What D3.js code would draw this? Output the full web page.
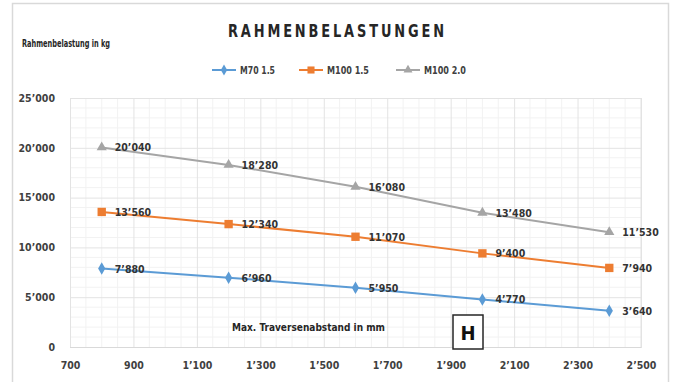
<!DOCTYPE html>
<html>
<head>
<meta charset="utf-8">
<script src="https://cdn.jsdelivr.net/npm/d3@7"></script>
<style>
  html, body { margin: 0; padding: 0; background: #fff; }
  svg { display: block; }
  text { font-family: "Liberation Sans Narrow", "DejaVu Sans Condensed", "Arial Narrow", sans-serif; }
</style>
</head>
<body>
<svg id="chart" width="675" height="382"></svg>
<script>
// Frame spacing in mm (x) and frame load in kg (y)
const spacings = [800, 1200, 1600, 2000, 2400];
const seriesNames = ["M70 1.5", "M100 1.5", "M100 2.0"];
const m70_15 = [7880, 6960, 5950, 4770, 3640];
const m100_15 = [13560, 12340, 11070, 9400, 7940];
const m100_20 = [20040, 18280, 16080, 13480, 11530];
const xTicks = [700, 900, 1100, 1300, 1500, 1700, 1900, 2100, 2300, 2500];
const yTicks = [0, 5000, 10000, 15000, 20000, 25000];
const colors = ["#5b9bd5", "#ed7d31", "#a5a5a5"];
const markers = [d3.symbolDiamond, d3.symbolSquare, d3.symbolTriangle];

const series = [m70_15, m100_15, m100_20].map((vals, i) => ({
  name: seriesNames[i], color: colors[i], marker: markers[i],
  points: vals.map((v, j) => ({ x: spacings[j], y: v }))
}));

// Swiss thousands separator: 20'040
const fmt = v => d3.format(",")(v).replace(/,/g, "\u2019");

const svg = d3.select("#chart");
const plot = { left: 70, right: 641, top: 98, bottom: 347 };

const x = d3.scaleLinear().domain([700, 2500]).range([plot.left, plot.right]);
const y = d3.scaleLinear().domain([0, 25000]).range([plot.bottom, plot.top]);

// chart frame
svg.append("rect")
  .attr("x", 12.5).attr("y", 3.5).attr("width", 656).attr("height", 390)
  .attr("fill", "#fff").attr("stroke", "#d9d9d9").attr("stroke-width", 1.5);

// minor gridlines
const g = svg.append("g");
g.selectAll("line.minx").data(d3.range(750, 2500, 50).filter(v => v % 200 !== 100))
  .join("line").attr("class", "minx")
  .attr("x1", d => x(d)).attr("x2", d => x(d))
  .attr("y1", plot.top).attr("y2", plot.bottom)
  .attr("stroke", "#f2f2f2").attr("stroke-width", 1);
g.selectAll("line.miny").data(d3.range(1000, 25000, 1000).filter(v => v % 5000 !== 0))
  .join("line").attr("class", "miny")
  .attr("x1", plot.left).attr("x2", plot.right)
  .attr("y1", d => y(d)).attr("y2", d => y(d))
  .attr("stroke", "#f2f2f2").attr("stroke-width", 1);

// major gridlines via axes
svg.append("g")
  .attr("transform", `translate(0,${plot.bottom})`)
  .call(d3.axisBottom(x).tickValues(xTicks).tickSize(-(plot.bottom - plot.top)).tickFormat(fmt))
  .call(a => a.select(".domain").attr("stroke", "#d9d9d9"))
  .call(a => a.selectAll(".tick line").attr("stroke", "#e3e3e3"))
  .call(a => a.selectAll(".tick text")
    .attr("y", 15).attr("font-size", 10.5).attr("font-weight", "bold").attr("fill", "#404040"));

svg.append("g")
  .attr("transform", `translate(${plot.left},0)`)
  .call(d3.axisLeft(y).tickValues(yTicks).tickSize(-(plot.right - plot.left)).tickFormat(fmt))
  .call(a => a.select(".domain").remove())
  .call(a => a.selectAll(".tick line").attr("stroke", d => d === 0 ? "#d9d9d9" : "#e3e3e3"))
  .call(a => a.selectAll(".tick text")
    .attr("x", -15).attr("font-size", 10.5).attr("font-weight", "bold").attr("fill", "#404040"));

// right plot edge
svg.append("line")
  .attr("x1", plot.right).attr("x2", plot.right).attr("y1", plot.top).attr("y2", plot.bottom)
  .attr("stroke", "#e3e3e3");

// series lines, markers and value labels
const line = d3.line().x(d => x(d.x)).y(d => y(d.y));
series.forEach(s => {
  const sg = svg.append("g");
  sg.append("path").datum(s.points).attr("d", line)
    .attr("fill", "none").attr("stroke", s.color).attr("stroke-width", 2);
  sg.selectAll("path.m").data(s.points).join("path").attr("class", "m")
    .attr("transform", d => `translate(${x(d.x)},${y(d.y)})`)
    .attr("d", d3.symbol().type(s.marker).size(s.marker === d3.symbolSquare ? 70 : 45))
    .attr("fill", s.color);
  sg.selectAll("text").data(s.points).join("text")
    .attr("x", d => x(d.x) + 13).attr("y", d => y(d.y) + 4)
    .attr("font-size", 10.5).attr("font-weight", "bold").attr("fill", "#333")
    .text(d => fmt(d.y));
});

// title: narrow glyphs, open letter spacing
svg.append("g")
  .attr("transform", "translate(228,37) scale(0.8,1)")
  .append("text")
  .attr("x", 0).attr("y", 0)
  .attr("font-size", 18).attr("font-weight", "bold")
  .attr("textLength", 216 / 0.8).attr("lengthAdjust", "spacing")
  .attr("fill", "#262626").text("RAHMENBELASTUNGEN");

// y axis title
svg.append("text")
  .attr("x", 22).attr("y", 47)
  .attr("font-size", 10).attr("font-weight", "bold").attr("fill", "#262626")
  .attr("textLength", 88).attr("lengthAdjust", "spacingAndGlyphs")
  .text("Rahmenbelastung in kg");

// x axis title inside plot
svg.append("text")
  .attr("x", 232).attr("y", 331)
  .attr("font-size", 10).attr("font-weight", "bold").attr("fill", "#262626")
  .attr("textLength", 153).attr("lengthAdjust", "spacingAndGlyphs")
  .text("Max. Traversenabstand in mm");

// legend
const legendX = [212, 299, 396];
const legendTextW = [35, 42, 42];
const lg = svg.append("g");
series.forEach((s, i) => {
  const lx = legendX[i], ly = 70;
  lg.append("line").attr("x1", lx).attr("x2", lx + 24).attr("y1", ly).attr("y2", ly)
    .attr("stroke", s.color).attr("stroke-width", 2);
  lg.append("path").attr("transform", `translate(${lx + 12},${ly})`)
    .attr("d", d3.symbol().type(s.marker).size(s.marker === d3.symbolSquare ? 50 : 35))
    .attr("fill", s.color);
  lg.append("text").attr("x", lx + 28).attr("y", ly + 4)
    .attr("font-size", 10).attr("font-weight", "bold").attr("fill", "#404040")
    .attr("textLength", legendTextW[i]).attr("lengthAdjust", "spacingAndGlyphs")
    .text(s.name);
});

// "H" badge
svg.append("rect")
  .attr("x", 453).attr("y", 315).attr("width", 30).attr("height", 34)
  .attr("fill", "#fff").attr("stroke", "#262626").attr("stroke-width", 1.5);
svg.append("text")
  .attr("x", 468).attr("y", 340).attr("text-anchor", "middle")
  .attr("font-size", 20).attr("font-weight", "bold")
  .attr("font-family", "Liberation Sans, Arial, sans-serif")
  .attr("fill", "#111").text("H");
</script>
</body>
</html>
